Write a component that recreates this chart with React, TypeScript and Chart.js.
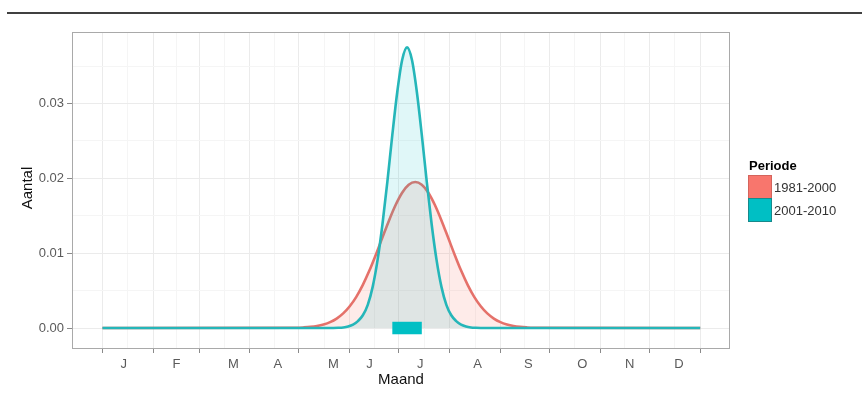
import React, { useEffect, useRef } from 'react';
import { Chart, registerables } from 'chart.js';

Chart.register(...registerables);

// ---------- data ----------
const monthLabels = ['J', 'F', 'M', 'A', 'M', 'J', 'J', 'A', 'S', 'O', 'N', 'D'];
const monthLabelDays = [14, 46.1, 81, 108, 142, 164, 195, 230, 261, 294, 323, 353];
const monthBoundaryDays = [1, 32, 60, 91, 121, 152, 182, 213, 244, 274, 305, 335, 366];
const yMajorTicks = [0, 0.01, 0.02, 0.03];
const yMinorTicks = [0.005, 0.015, 0.025, 0.035];

const seriesNames = ['1981-2000', '2001-2010'];

const redDays = [
  1, 120, 124, 128, 132, 136, 140, 144, 148, 152, 156, 160, 164, 168, 172, 176, 180, 184, 188,
  192, 196, 200, 204, 208, 212, 216, 220, 224, 228, 232, 236, 240, 244, 248, 252, 256, 260, 264, 366,
];
const redValues = [
  0, 0.00004, 0.00008, 0.00015, 0.00027, 0.00047, 0.00078, 0.00126, 0.00195, 0.00291, 0.00417,
  0.00577, 0.00767, 0.00983, 0.01212, 0.01438, 0.01643, 0.01807, 0.01913, 0.0195, 0.01913,
  0.01807, 0.01643, 0.01438, 0.01212, 0.00983, 0.00767, 0.00577, 0.00417, 0.00291, 0.00195,
  0.00126, 0.00078, 0.00047, 0.00027, 0.00015, 0.00008, 0.00004, 0,
];

const cyanDays = [
  1, 142, 145, 148, 151, 154, 157, 160, 163, 166, 169, 172, 175, 178, 181, 184, 187, 190, 193,
  196, 199, 202, 205, 208, 211, 214, 217, 220, 223, 226, 229, 232, 366,
];
const cyanValues = [
  0, 0.00001, 0.00003, 0.00008, 0.0002, 0.00044, 0.00092, 0.0017, 0.0031, 0.0055, 0.0091, 0.0139,
  0.0196, 0.0258, 0.0315, 0.0358, 0.0375, 0.0358, 0.0315, 0.0258, 0.0196, 0.0139, 0.0091, 0.0055,
  0.0031, 0.0017, 0.00092, 0.00044, 0.0002, 0.00008, 0.00003, 0.00001, 0,
];

const boxDays = [178, 196];
const boxValues = [0, 0];

// ---------- styling ----------
const FONT = 'Liberation Sans, Arial, Helvetica, sans-serif';
const RED_LINE = '#e5716a';
const CYAN_LINE = '#25b6b9';
const RED_KEY = '#F8766D';
const CYAN_KEY = '#00BFC4';

type XTick = { v: number; kind: 'major' | 'minor' | 'label'; text: string };

const xTickList: XTick[] = [
  ...monthBoundaryDays.map((v) => ({ v, kind: 'major' as const, text: '' })),
  ...monthBoundaryDays.slice(1).map((v, i) => ({
    v: (v + monthBoundaryDays[i]) / 2 + 0.01,
    kind: 'minor' as const,
    text: '',
  })),
  ...monthLabelDays.map((v, i) => ({ v: v + 0.02, kind: 'label' as const, text: monthLabels[i] })),
].sort((a, b) => a.v - b.v);

const yTickList = [
  ...yMajorTicks.map((v) => ({ v, major: true })),
  ...yMinorTicks.map((v) => ({ v, major: false })),
].sort((a, b) => a.v - b.v);

const decoPlugin = {
  id: 'deco',
  beforeDraw(chart: any) {
    const ctx = chart.ctx;
    ctx.save();
    ctx.fillStyle = '#ffffff';
    ctx.fillRect(0, 0, chart.width, chart.height);
    ctx.restore();
  },
  afterDraw(chart: any) {
    const { ctx, chartArea: a } = chart;
    ctx.save();
    // top rule
    ctx.strokeStyle = '#000';
    ctx.lineWidth = 1.6;
    ctx.beginPath();
    ctx.moveTo(7, 13);
    ctx.lineTo(862, 13);
    ctx.stroke();

    // panel border
    ctx.strokeStyle = '#a9a9a9';
    ctx.lineWidth = 1;
    ctx.strokeRect(a.left + 0.5, a.top + 0.5, a.right - a.left - 1, a.bottom - a.top);

    // axis titles
    ctx.fillStyle = '#111';
    ctx.font = `15px ${FONT}`;
    ctx.textAlign = 'center';
    ctx.textBaseline = 'middle';
    ctx.fillText('Maand', (a.left + a.right) / 2, 380);
    ctx.save();
    ctx.translate(27.5, 188);
    ctx.rotate(-Math.PI / 2);
    ctx.fillText('Aantal', 0, 0);
    ctx.restore();

    // legend
    ctx.textAlign = 'left';
    ctx.fillStyle = '#000';
    ctx.font = `bold 13px ${FONT}`;
    ctx.fillText('Periode', 749, 166);
    const keys = [
      { fill: RED_KEY, stroke: '#d4645c' },
      { fill: CYAN_KEY, stroke: '#17898b' },
    ];
    keys.forEach((k, i) => {
      const y = 175.5 + i * 23;
      ctx.fillStyle = k.fill;
      ctx.fillRect(748.5, y, 23, 23);
      ctx.strokeStyle = k.stroke;
      ctx.lineWidth = 1;
      ctx.strokeRect(748.5, y, 23, 23);
    });
    ctx.fillStyle = '#333';
    ctx.font = `13px ${FONT}`;
    seriesNames.forEach((n, i) => {
      ctx.fillText(n, 774, 188 + i * 23.5);
    });
    ctx.restore();
  },
};

export default function App() {
  const ref = useRef<HTMLCanvasElement | null>(null);

  useEffect(() => {
    if (!ref.current) return;
    Chart.defaults.font.family = FONT;
    const chart = new Chart(ref.current, {
      type: 'line',
      data: {
        datasets: [
          {
            label: seriesNames[0],
            data: redDays.map((d, i) => ({ x: d, y: redValues[i] })),
            borderColor: RED_LINE,
            backgroundColor: 'rgba(248,118,109,0.15)',
            borderWidth: 2.6,
            fill: 'origin',
            pointRadius: 0,
            cubicInterpolationMode: 'monotone',
            order: 3,
          },
          {
            label: seriesNames[1],
            data: cyanDays.map((d, i) => ({ x: d, y: cyanValues[i] })),
            borderColor: CYAN_LINE,
            backgroundColor: 'rgba(0,191,196,0.12)',
            borderWidth: 2.6,
            fill: 'origin',
            pointRadius: 0,
            cubicInterpolationMode: 'monotone',
            order: 2,
          },
          {
            label: 'box',
            data: boxDays.map((d, i) => ({ x: d, y: boxValues[i] })),
            borderColor: CYAN_KEY,
            borderWidth: 12.5,
            borderCapStyle: 'butt',
            fill: false,
            pointRadius: 0,
            order: 1,
          },
        ],
      } as any,
      options: {
        animation: false,
        responsive: false,
        maintainAspectRatio: false,
        layout: { padding: { top: 32, right: 132, left: 0, bottom: 0 } },
        plugins: { legend: { display: false }, tooltip: { enabled: false } },
        scales: {
          x: {
            type: 'linear',
            min: -17.6,
            max: 384.2,
            afterBuildTicks: (s: any) => {
              s.ticks = xTickList.map((t) => ({ value: t.v }));
            },
            afterFit: (s: any) => {
              s.height = 49;
            },
            border: { display: false },
            grid: {
              color: (c: any) => {
                const k = xTickList[c.index]?.kind;
                return k === 'major' ? '#ebebeb' : k === 'minor' ? '#f5f5f5' : 'rgba(0,0,0,0)';
              },
              tickColor: (c: any) =>
                xTickList[c.index]?.kind === 'major' ? '#8a8a8a' : 'rgba(0,0,0,0)',
              tickLength: 5,
              lineWidth: 1,
            },
            ticks: {
              autoSkip: false,
              maxRotation: 0,
              minRotation: 0,
              padding: 4,
              color: '#5a5a5a',
              font: { size: 13, family: FONT },
              callback: (_v: any, i: number) => xTickList[i]?.text ?? '',
            },
          },
          y: {
            type: 'linear',
            min: -0.00267,
            max: 0.03955,
            afterBuildTicks: (s: any) => {
              s.ticks = yTickList.map((t) => ({ value: t.v }));
            },
            afterFit: (s: any) => {
              s.width = 72;
            },
            border: { display: false },
            grid: {
              color: (c: any) => (yTickList[c.index]?.major ? '#ebebeb' : '#f5f5f5'),
              tickColor: (c: any) => (yTickList[c.index]?.major ? '#8a8a8a' : 'rgba(0,0,0,0)'),
              tickLength: 5,
              lineWidth: 1,
            },
            ticks: {
              padding: 3,
              color: '#5a5a5a',
              font: { size: 13, family: FONT },
              callback: (v: any, i: number) =>
                yTickList[i]?.major ? Number(v).toFixed(2) : '',
            },
          },
        },
      } as any,
      plugins: [decoPlugin],
    });
    return () => chart.destroy();
  }, []);

  return (
    <div style={{ position: 'fixed', left: 0, top: 0, width: 862, height: 397, background: '#fff' }}>
      <canvas ref={ref} width={862} height={397} style={{ display: 'block', width: 862, height: 397 }} />
    </div>
  );
}
